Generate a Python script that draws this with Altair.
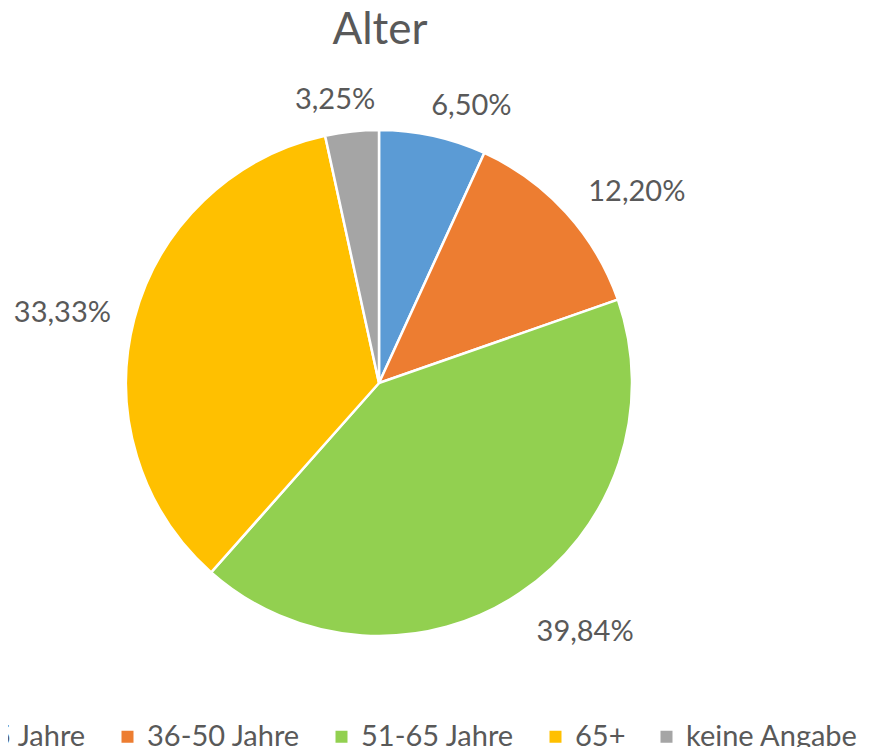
import altair as alt
import pandas as pd

title_text = "Alter"
categories = ["18-35 Jahre", "36-50 Jahre", "51-65 Jahre", "65+", "keine Angabe"]
values = [6.50, 12.20, 39.84, 33.33, 3.25]
labels = ["6,50%", "12,20%", "39,84%", "33,33%", "3,25%"]
colors = ["#5B9BD5", "#ED7D31", "#92D050", "#FFC000", "#A5A5A5"]

df = pd.DataFrame({"cat": categories, "value": values, "label": labels,
                   "idx": list(range(len(categories)))})

CX, CY = 371, 375
R = 253
FONT = "Lato"
GREY = "#595959"

base = alt.Chart(df).encode(
    theta=alt.Theta("value:Q", stack=True),
    order=alt.Order("idx:Q", sort="ascending"),
)

pie = base.mark_arc(radius=R, stroke="white", strokeWidth=2.5).encode(
    x=alt.value(CX), y=alt.value(CY),
    color=alt.Color(
        "cat:N",
        scale=alt.Scale(domain=categories, range=colors),
        sort=categories,
        legend=alt.Legend(
            title=None, orient="none", direction="horizontal",
            legendX=-109, legendY=714,
            symbolType="square", symbolSize=144, symbolStrokeWidth=0,
            labelFont=FONT, labelFontSize=29, labelColor=GREY,
            labelOffset=5, columnPadding=26, padding=0, labelLimit=400,
        ),
    ),
)


def label_layer(cats, align, baseline, radius, dx=0):
    cond = " || ".join(f"datum.cat == '{c}'" for c in cats)
    return base.transform_calculate(
        t=f"({cond}) ? datum.label : ''"
    ).mark_text(
        radius=radius, align=align, baseline=baseline, dx=dx,
        font=FONT, fontSize=29, color=GREY,
    ).encode(x=alt.value(CX), y=alt.value(CY), text="t:N")


title = alt.Chart(pd.DataFrame({"t": [title_text]})).mark_text(
    font=FONT, fontSize=44, color=GREY, align="center", baseline="alphabetic",
).encode(x=alt.value(CX + 1), y=alt.value(36), text="t:N")

layers = [
    pie,
    label_layer(["18-35 Jahre"], "left", "middle", 283, -8),
    label_layer(["36-50 Jahre"], "left", "middle", 283),
    label_layer(["51-65 Jahre"], "left", "top", 283),
    label_layer(["65+"], "right", "middle", 277),
    label_layer(["keine Angabe"], "center", "bottom", 270, -15),
    title,
]

chart = alt.layer(*layers).properties(
    width=853, height=739,
    padding={"left": 0, "right": 0, "top": 0, "bottom": 0},
    autosize=alt.AutoSizeParams(type="none"),
).configure_view(stroke=None)

chart.save("out.html", embed_options={"renderer": "svg", "actions": False})
